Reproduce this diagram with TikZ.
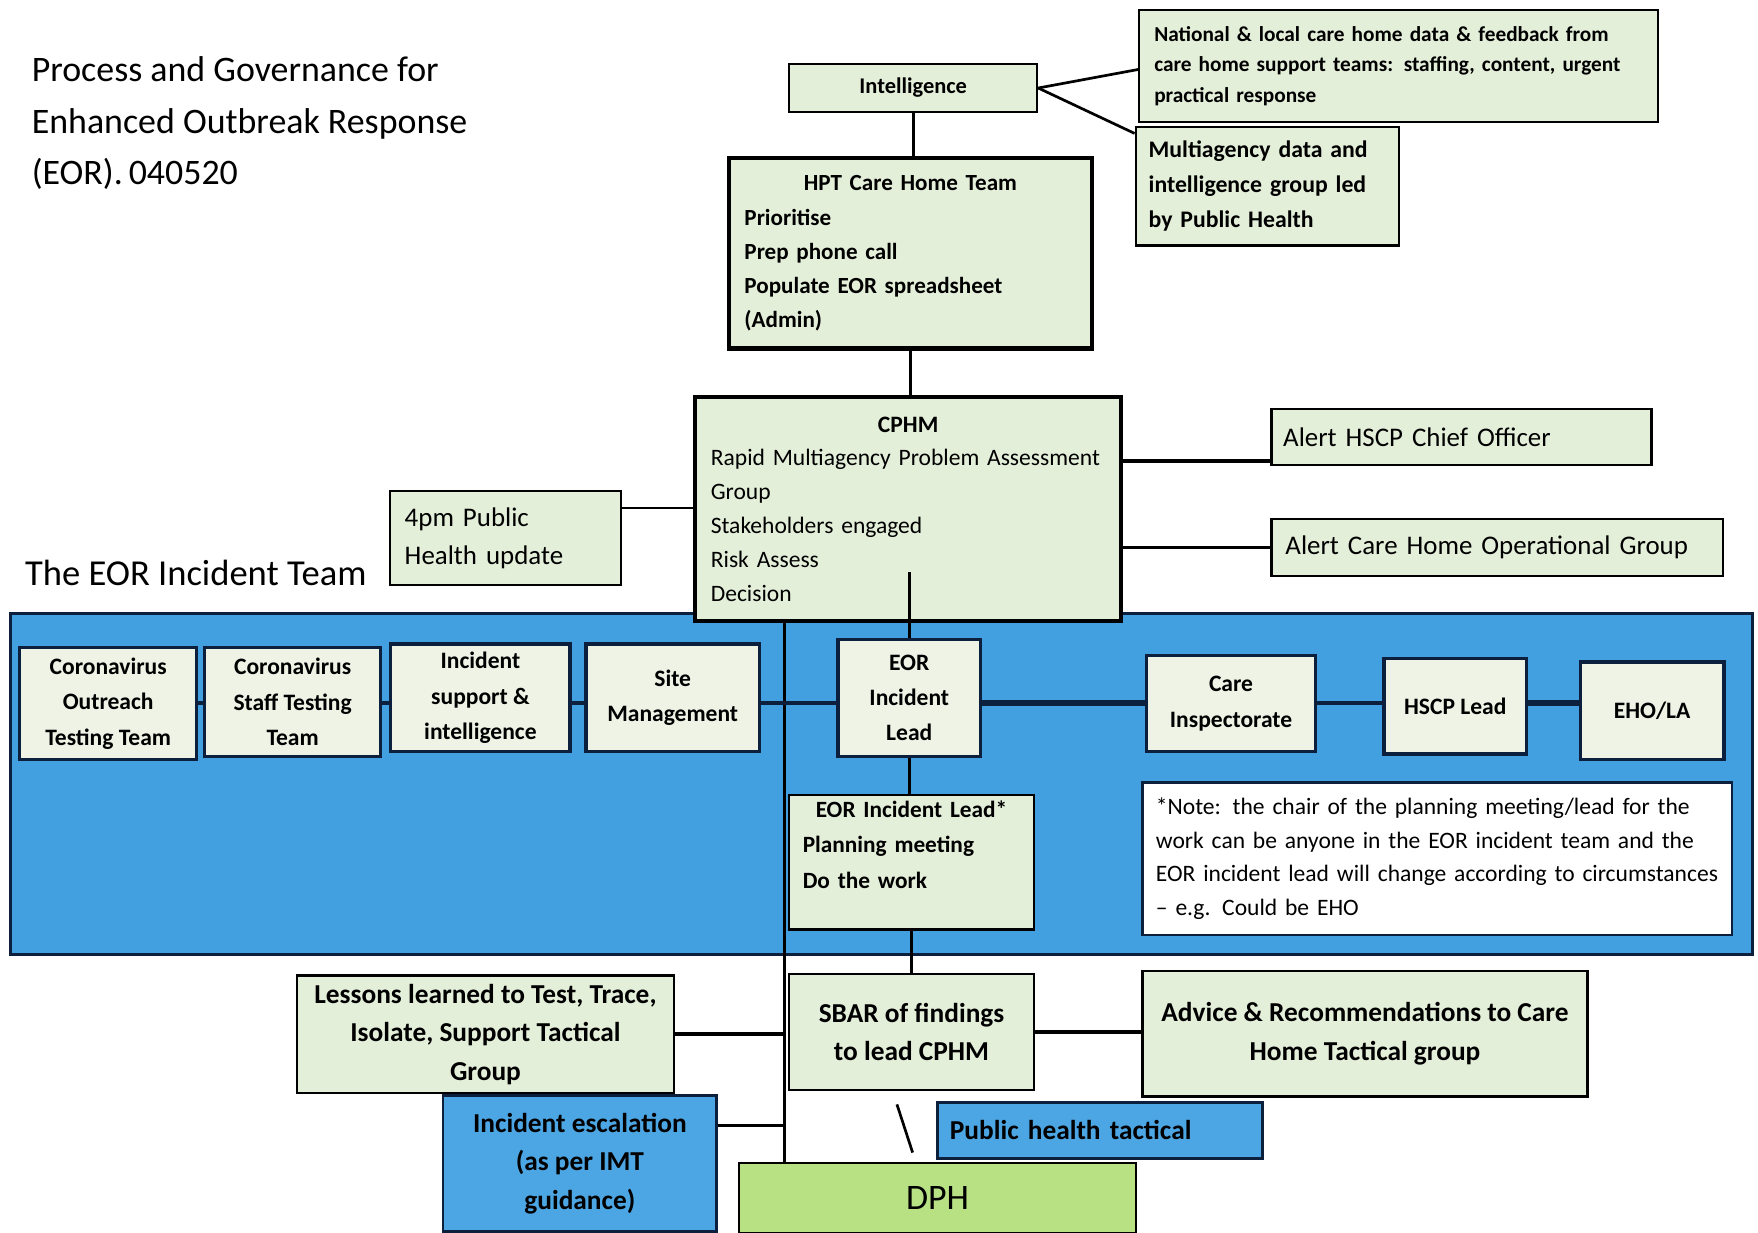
\documentclass[tikz,border=0pt]{standalone}
\usepackage{fontspec}
\setmainfont{Carlito}
\usetikzlibrary{calc}
\definecolor{boxgreen}{RGB}{228,239,218}
\definecolor{bandblue}{RGB}{66,160,224}
\definecolor{navy}{RGB}{12,32,62}
\definecolor{escblue}{RGB}{76,166,228}
\definecolor{dphgreen}{RGB}{184,225,132}
\definecolor{pale}{RGB}{238,243,230}
\tikzset{
  xyxy/.style n args={4}{anchor=north west, minimum width={(#3-#1)*0.5pt}, minimum height={(#4-#2)*0.5pt}, at={(#1,#2)}},
  gbox/.style={draw=black, line width=1pt, fill=boxgreen, inner sep=0pt, align=center},
  thickbox/.style={gbox, line width=2pt},
  teambox/.style={draw=navy, line width=1.5pt, fill=pale, inner sep=0pt, align=center, font=\fontsize{10.5}{15.75}\selectfont\bfseries},
  bluebox/.style={draw=navy, line width=1.2pt, fill=escblue, inner sep=0pt, align=center},
  conn/.style={draw=black, line width=1.2pt},
  rowconn/.style={draw=navy, line width=2pt},
  bigtxt/.style={font=\fontsize{12.2}{17.25}\selectfont\bfseries},
}
\begin{document}
\begin{tikzpicture}[x=0.5pt,y=-0.5pt]
\useasboundingbox (0,0) rectangle (1568,1099);
% title
\node[anchor=west, align=left, inner sep=0pt, font=\fontsize{16}{23}\selectfont] (title) at (28,110) {Process and Governance for\\Enhanced Outbreak Response\\(EOR).\,040520};
\node[anchor=west, inner sep=0pt, font=\fontsize{16.3}{20}\selectfont] (teamlabel) at (22,511) {The EOR Incident Team};
% band
\node[xyxy={8}{546}{1562}{850}, draw=navy, line width=1.2pt, fill=bandblue, inner sep=0pt] (band) {};
% top boxes
\node[gbox, xyxy={703}{56}{924}{99}, font=\fontsize{10}{12}\selectfont\bfseries] (intel) {Intelligence};
\node[gbox, xyxy={1015}{8}{1478}{108}, text width=218pt, align=left, font=\fontsize{9.5}{13.75}\selectfont\bfseries] (natl) {National \& local care home data \& feedback from\\care home support teams: staffing, content, urgent\\practical response};
\node[gbox, xyxy={1012}{112}{1247}{218}, text width=106pt, align=left, font=\fontsize{10.6}{15.75}\selectfont\bfseries] (multi) {Multiagency data and\\intelligence group led\\by Public Health};
\node[thickbox, xyxy={648}{139}{972}{309}, text width=148pt, align=left, font=\fontsize{10.3}{15.25}\selectfont\bfseries] (hpt) {\makebox[\linewidth]{HPT Care Home Team}\\Prioritise\\Prep phone call\\Populate EOR spreadsheet\\(Admin)};
\node[thickbox, xyxy={618}{352}{998}{552}, text width=176pt, align=left, font=\fontsize{10.5}{15.1}\selectfont] (cphm) {\makebox[\linewidth]{\bfseries CPHM}\\Rapid Multiagency Problem Assessment\\Group\\Stakeholders engaged\\Risk Assess\\Decision};
\node[gbox, xyxy={1133}{364}{1472}{414}, text width=159pt, align=left, font=\fontsize{12}{14}\selectfont] (hscp) {Alert HSCP Chief Officer};
\node[gbox, xyxy={1133}{462}{1536}{513}, text width=189pt, align=left, font=\fontsize{12}{14}\selectfont] (cog) {Alert Care Home Operational Group};
\node[gbox, xyxy={347}{437}{553}{521}, text width=90pt, align=left, font=\fontsize{12}{17}\selectfont] (pm4) {4pm Public\\Health update};
% team row
\node[teambox, xyxy={16}{576}{174}{676}] (cot) {Coronavirus\\Outreach\\Testing Team};
\node[teambox, xyxy={181}{576}{338}{673}] (cst) {Coronavirus\\Staff Testing\\Team};
\node[teambox, xyxy={347}{573}{507}{669}] (isi) {Incident\\support \&\\intelligence};
\node[teambox, xyxy={521}{573}{676}{669}] (site) {Site\\Management};
\node[teambox, xyxy={746}{569}{873}{673}] (eorl) {EOR\\Incident\\Lead};
\node[teambox, xyxy={1021}{583}{1172}{669}] (care) {Care\\Inspectorate};
\node[teambox, xyxy={1233}{586}{1360}{671}] (hscpl) {HSCP Lead};
\node[teambox, xyxy={1408}{589}{1536}{676}] (eho) {EHO/LA};
\node[xyxy={1018}{697}{1544}{833}, draw=navy, line width=1pt, fill=white, inner sep=0pt, text width=251pt, align=left, font=\fontsize{10.5}{15}\selectfont] (note) {*Note: the chair of the planning meeting/lead for the\\work can be anyone in the EOR incident team and the\\EOR incident lead will change according to circumstances\\-- e.g. Could be EHO};
\node[gbox, xyxy={703}{708}{921}{828}, text width=97pt, align=left, font=\fontsize{10.4}{15.75}\selectfont\bfseries] (eorls) {\makebox[\linewidth]{EOR Incident Lead*}\\Planning meeting\\Do the work\\\mbox{}};
% bottom
\node[gbox, bigtxt, xyxy={264}{869}{600}{974}] (lessons) {Lessons learned to Test, Trace,\\Isolate, Support Tactical\\Group};
\node[gbox, bigtxt, xyxy={703}{868}{921}{971}] (sbar) {SBAR of findings\\to lead CPHM};
\node[gbox, bigtxt, xyxy={1018}{865}{1415}{977}] (advice) {Advice \& Recommendations to Care\\Home Tactical group};
\node[bluebox, bigtxt, xyxy={394}{976}{638}{1097}] (esc) {Incident escalation\\(as per IMT\\guidance)};
\node[bluebox, bigtxt, xyxy={835}{982}{1125}{1032}, text width=134pt, align=left] (pht) {Public health tactical};
\node[xyxy={658}{1036}{1012}{1099}, draw=black, line width=1.2pt, fill=dphgreen, inner sep=0pt, font=\fontsize{16}{18}\selectfont] (dph) {DPH};
% connectors
\coordinate (spine) at (700,0);
\coordinate (hscpy) at (0,411);
\coordinate (pmy) at (0,453);
\coordinate (decy) at (0,510);
\coordinate (rowy) at (0,627);
\coordinate (escy) at (0,1004);
\coordinate (bsa) at (800,985);
\coordinate (bsb) at (814,1028);
\draw[conn] (spine |- cphm.south) -- (spine |- dph.north);
\draw[conn] (intel.south) -- (intel.south |- hpt.north);
\draw[conn] (hpt.south) -- (hpt.south |- cphm.north);
\draw[conn] (intel.east) -- ($(natl.west)+(0,3)$);
\draw[conn] (intel.east) -- ($(multi.north west)+(0,7)$);
\draw[conn, line width=2pt] (cphm.east |- hscpy) -- (hscp.west |- hscpy);
\draw[conn] (cphm.east |- cog.west) -- (cog.west);
\draw[conn] (pm4.east |- pmy) -- (cphm.west |- pmy);
\draw[conn] (eorl.north) -- (eorl.north |- decy);
\draw[conn] (eorl.south) -- (eorl.south |- eorls.north);
\draw[conn] (eorls.south) -- (eorls.south |- sbar.north);
\draw[rowconn] (cot.east |- rowy) -- (cst.west |- rowy);
\draw[rowconn] (cst.east |- rowy) -- (isi.west |- rowy);
\draw[rowconn] (isi.east |- rowy) -- (site.west |- rowy);
\draw[rowconn] (site.east |- rowy) -- (eorl.west |- rowy);
\draw[rowconn, line width=2.5pt] (eorl.east |- rowy) -- (care.west |- rowy);
\draw[rowconn] (care.east |- rowy) -- (hscpl.west |- rowy);
\draw[rowconn, line width=2.5pt] (hscpl.east |- rowy) -- (eho.west |- rowy);
\draw[conn, line width=1.8pt] (lessons.east) -- (lessons.east -| spine);
\draw[conn, line width=1.8pt] (sbar.east) -- (sbar.east -| advice.west);
\draw[conn] (esc.east |- escy) -- (spine |- escy);
\draw[conn] (bsa) -- (bsb);
\end{tikzpicture}
\end{document}
